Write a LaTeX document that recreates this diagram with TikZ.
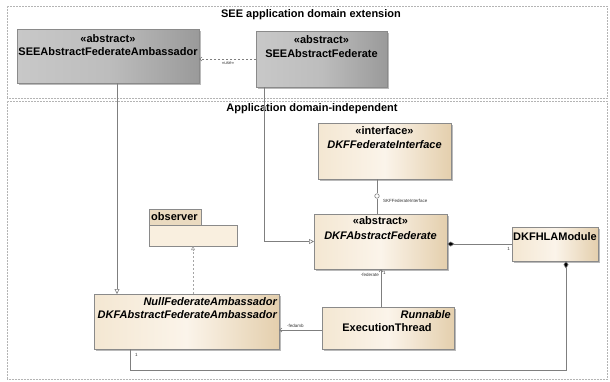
\documentclass[tikz,border=0pt]{standalone}
\usepackage{fontspec}
\setmainfont{Liberation Sans}
\usetikzlibrary{arrows.meta,shadows,calc}
\definecolor{lineg}{HTML}{7F7F7F}
\definecolor{boxg}{HTML}{8A8A8A}
\definecolor{frameg}{HTML}{B4B4B4}
\definecolor{creamA}{HTML}{F4E7D2}
\definecolor{creamB}{HTML}{FBF4EA}
\definecolor{creamC}{HTML}{E4CFAD}
\definecolor{grayA}{HTML}{C8C8C8}
\definecolor{grayB}{HTML}{BDBDBD}
\definecolor{grayC}{HTML}{9A9A9A}
\definecolor{pkgbody}{HTML}{F9EFDF}
\definecolor{pkgtab}{HTML}{EADAC0}
\begin{document}
\begin{tikzpicture}[x=1pt,y=-1pt,
  frame/.style={draw=frameg, densely dotted, line width=0.5pt, anchor=north west, inner sep=0, outer sep=0},
  shad/.style={drop shadow={shadow xshift=2pt, shadow yshift=-2pt, fill=black!45, opacity=0.6}},
  cls/.style={draw=boxg, line width=0.6pt, left color=creamA, right color=creamC, middle color=creamB, shad, anchor=north west, inner sep=0, outer sep=0},
  gcls/.style={draw=boxg, line width=0.6pt, left color=grayA, right color=grayC, middle color=grayB, shad, anchor=north west, inner sep=0, outer sep=0},
  pkg/.style={draw=boxg, line width=0.6pt, anchor=north west, inner sep=0, outer sep=0},
  ttl/.style={font=\fontsize{11}{12}\selectfont\bfseries, inner sep=0},
  nm/.style={font=\fontsize{11}{12}\selectfont\bfseries, inner sep=0},
  inm/.style={font=\fontsize{11}{12}\selectfont\bfseries\itshape, inner sep=0},
  tiny/.style={font=\fontsize{4.5}{5}\selectfont, inner sep=0, text=black!80},
  conn/.style={draw=lineg, line width=0.6pt},
  gen/.style={conn, -{Triangle[open, length=5pt, width=5pt]}},
  dep/.style={conn, dashed, dash pattern=on 2.5pt off 1.5pt, -{Straight Barb[length=2.5pt, width=4pt]}},
  real/.style={conn, dash pattern=on 2.5pt off 1.5pt, draw=lineg!70, -{Triangle[open, length=4pt, width=4pt]}},
  nav/.style={conn, -{Straight Barb[length=2.5pt, width=4pt]}},
  comp/.style={conn, {Diamond[length=7.5pt, width=5pt, fill=black]}-}
]
\useasboundingbox (0,0) rectangle (610,381);

% frames
\node[frame, minimum width=600pt, minimum height=92pt] (f1) at (7,6) {};
\node[frame, minimum width=600pt, minimum height=278pt] (f2) at (7,101) {};
\node[ttl] (f1t) at (311,15) {SEE application domain extension};
\node[ttl] (f2t) at (312,109) {Application domain-independent};

% gray classes
\node[gcls, minimum width=182pt, minimum height=54pt] (samb) at (17,29) {};
\node[nm] (sambs) at (108,39) {«abstract»};
\node[nm] (sambn) at (108,52) {SEEAbstractFederateAmbassador};

\node[gcls, minimum width=131pt, minimum height=56pt] (sfed) at (256,31) {};
\node[nm] (sfeds) at (321.5,40) {«abstract»};
\node[nm] (sfedn) at (321.5,54) {SEEAbstractFederate};

% cream classes
\node[cls, minimum width=133pt, minimum height=56pt] (iface) at (318,123) {};
\node[nm] (ifaces) at (384.5,131) {«interface»};
\node[inm] (ifacen) at (384.5,145) {DKFFederateInterface};

\node[cls, minimum width=133pt, minimum height=55pt] (dfed) at (314,214) {};
\node[nm] (dfeds) at (380.5,221) {«abstract»};
\node[inm] (dfedn) at (380.5,236) {DKFAbstractFederate};

\node[cls, minimum width=86pt, minimum height=34pt] (hla) at (512,227) {};
\node[nm] (hlan) at (555,237) {DKFHLAModule};

\node[cls, minimum width=185pt, minimum height=55pt] (amb) at (94,294) {};
\node[inm, anchor=east] (ambs) at (277,302) {NullFederateAmbassador};
\node[inm, anchor=east] (ambn) at (277,315) {DKFAbstractFederateAmbassador};

\node[cls, minimum width=132pt, minimum height=42pt] (exec) at (322,307) {};
\node[inm, anchor=east] (execs) at (451,315) {Runnable};
\node[nm] (execn) at (387,328) {ExecutionThread};

% package observer
\node[pkg, fill=pkgtab, minimum width=52pt, minimum height=16pt] (obst) at (149,209) {};
\node[pkg, fill=pkgbody, minimum width=88pt, minimum height=21pt] (obs) at (149,225) {};
\node[nm, anchor=west] (obsn) at (151,217) {observer};

% helper coordinates
\coordinate (x117) at (117,0);
\coordinate (x264) at (264,0);
\coordinate (x193) at (193,0);
\coordinate (x381) at (381,0);
\coordinate (x566) at (566,0);
\coordinate (x130) at (130,0);
\coordinate (y370) at (0,370);
\coordinate (y330) at (0,330);

% connectors
\draw[dep] (sfed.west) -- (sfed.west -| samb.east);
\node[tiny] (usel) at (228,63) {«use»};

\draw[gen] (samb.south -| x117) -- (amb.north -| x117);
\draw[gen] (sfed.south -| x264) |- (dfed.west);

\node[circle, draw=lineg, fill=white, line width=0.6pt, minimum size=4.5pt, inner sep=0] (lol) at (377,196) {};
\draw[conn] (iface.south -| lol) -- (lol.north);
\draw[conn] (lol.south) -- (dfed.north -| lol);
\node[tiny, anchor=west] (lolt) at (383,201) {SKFFederateInterface};

\draw[comp] (dfed.east |- hla.west) -- (hla.west);
\node[tiny, anchor=east] (hla1) at (510,249) {1};

\draw[nav] (exec.north -| x381) -- (dfed.south -| x381);
\node[tiny, anchor=east] (fedl) at (379,275) {-federate};
\node[tiny, anchor=west] (fed1) at (383,273) {1};

\draw[nav] (exec.west |- y330) -- (amb.east |- y330);
\node[tiny, anchor=west] (fambl) at (287,326) {-fedamb};

\draw[comp] (hla.south -| x566) -- (x566 |- y370) -- (x130 |- y370) -- (amb.south -| x130);
\node[tiny, anchor=west] (amb1) at (135,355) {1};

\draw[real] (amb.north -| x193) -- (obs.south -| x193);
\end{tikzpicture}
\end{document}
